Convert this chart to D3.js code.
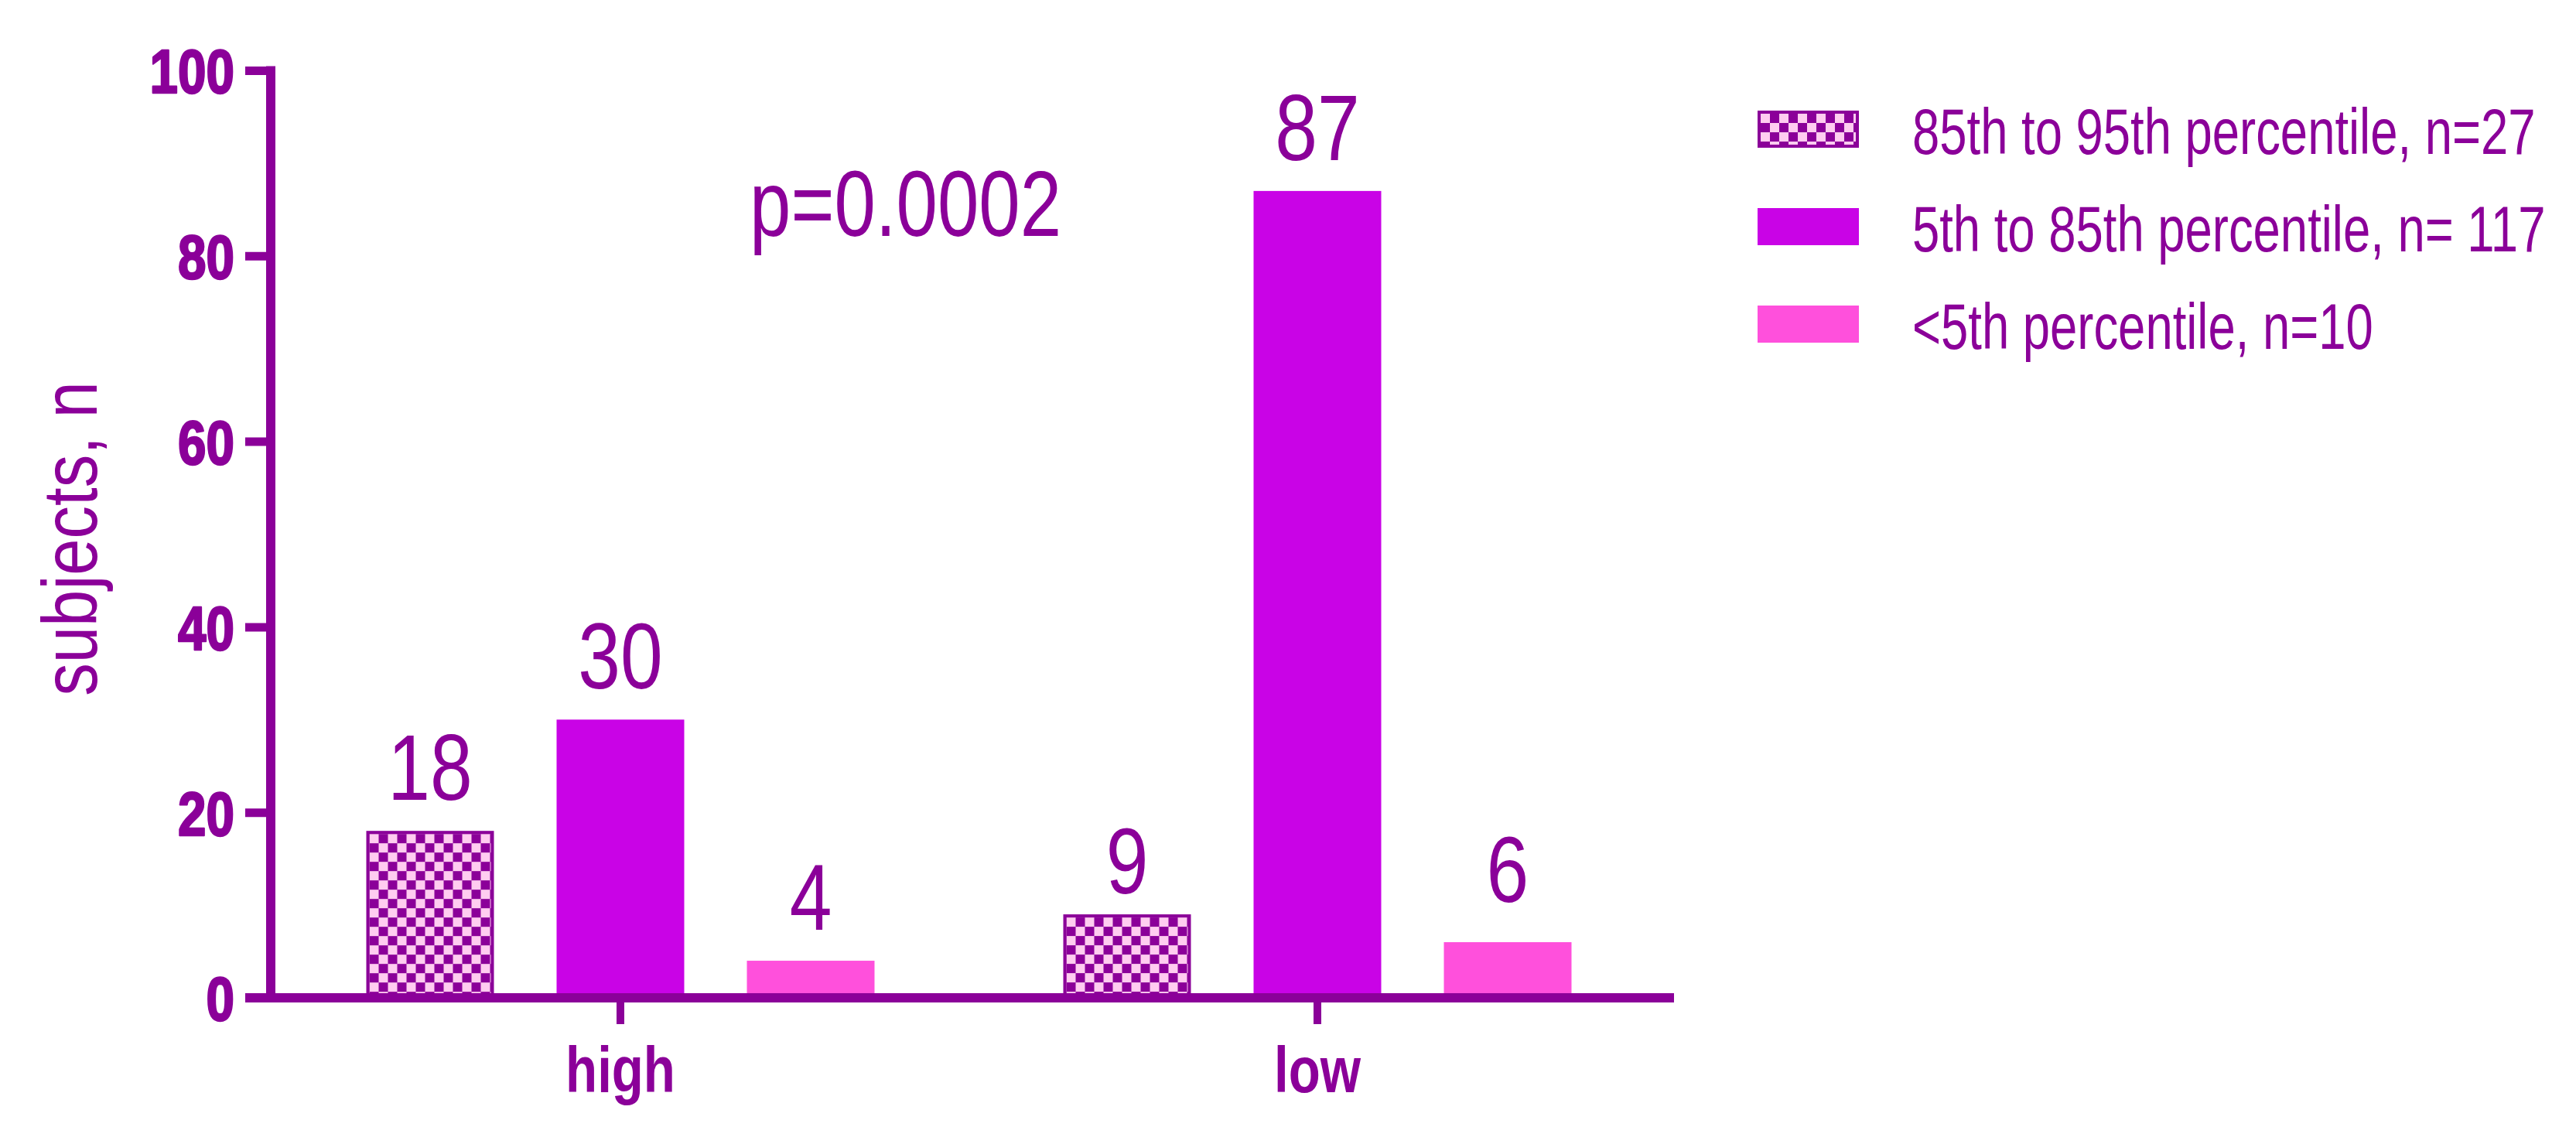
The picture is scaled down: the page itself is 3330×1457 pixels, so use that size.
<!DOCTYPE html>
<html>
<head>
<meta charset="utf-8">
<script src="https://cdn.jsdelivr.net/npm/d3@7"></script>
<style>
  html, body { margin: 0; padding: 0; background: #ffffff; }
  svg { display: block; }
</style>
</head>
<body>
<script>
// ---- data ----
const categories = ["high", "low"];
const seriesNames = ["85th to 95th percentile, n=27", "5th to 85th percentile, n= 117", "<5th percentile, n=10"];
const series85to95 = [18, 9];
const series5to85 = [30, 87];
const seriesBelow5 = [4, 6];
const yTickValues = [0, 20, 40, 60, 80, 100];
const yTitle = "subjects, n";
const pText = "p=0.0002";

// ---- styling ----
const W = 3330, H = 1457;
const DARK = "#8b0099";
const LIGHT = "#ffccf0";
const seriesColors = [null, "#c903e6", "#ff50dc"];
const FONT = '"Liberation Sans", Arial, sans-serif';
// small manual label nudges (px) as in the original figure, keyed "category|seriesIndex"
const labelNudge = { "low|0": 13, "low|2": -12 };

const seriesValues = [series85to95, series5to85, seriesBelow5];

const svg = d3.select("body").append("svg").attr("width", W).attr("height", H);
svg.append("rect").attr("width", W).attr("height", H).attr("fill", "#ffffff");
const defs = svg.append("defs");

function condense(sel, sx) {
  sel.each(function () {
    const t = d3.select(this);
    const x = +t.attr("x") || 0;
    t.attr("x", x / sx).attr("transform", `scale(${sx},1)`);
  });
}

function checker(id, ox, oy) {
  const p = defs.append("pattern").attr("id", id)
    .attr("patternUnits", "userSpaceOnUse")
    .attr("x", ox).attr("y", oy).attr("width", 24).attr("height", 24);
  p.append("rect").attr("width", 24).attr("height", 24).attr("fill", LIGHT);
  p.append("rect").attr("x", 12).attr("y", 0).attr("width", 12).attr("height", 12).attr("fill", DARK);
  p.append("rect").attr("x", 0).attr("y", 12).attr("width", 12).attr("height", 12).attr("fill", DARK);
  return `url(#${id})`;
}

// ---- scales ----
const y = d3.scaleLinear().domain([0, 100]).range([1290, 91]);
const x0 = d3.scaleBand().domain(categories).range([351.5, 2153.5]);
const x1 = d3.scaleBand().domain(d3.range(seriesNames.length)).range([-369, 369])
  .paddingInner(0.3293).paddingOuter(0.16465);

// ---- bars ----
const bars = [];
categories.forEach((c, i) => {
  seriesValues.forEach((vals, j) => {
    bars.push({ cat: c, s: j, v: vals[i] });
  });
});

const gBars = svg.append("g");
bars.forEach((d, k) => {
  const bx = x0(d.cat) + x0.bandwidth() / 2 + x1(d.s);
  const by = y(d.v);
  const bw = x1.bandwidth();
  const bh = y(0) - y(d.v);
  if (d.s === 0) {
    const fill = checker("chk" + k, bx + 4, by + 4);
    gBars.append("rect").attr("x", bx + 2).attr("y", by + 2)
      .attr("width", bw - 4).attr("height", bh)
      .attr("fill", fill).attr("stroke", DARK).attr("stroke-width", 4);
  } else {
    gBars.append("rect").attr("x", bx).attr("y", by)
      .attr("width", bw).attr("height", bh)
      .attr("fill", seriesColors[d.s]);
  }
});

// value labels
const gLab = svg.append("g");
bars.forEach(d => {
  const cx = x0(d.cat) + x0.bandwidth() / 2 + x1(d.s) + x1.bandwidth() / 2;
  const nudge = labelNudge[d.cat + "|" + d.s] || 0;
  gLab.append("text").attr("x", cx).attr("y", y(d.v) - 40 + nudge)
    .attr("text-anchor", "middle").attr("fill", DARK)
    .style("font-family", FONT).style("font-size", "120px")
    .text(d.v);
});
condense(gLab.selectAll("text"), 0.82);

// ---- y axis ----
const gY = svg.append("g").attr("transform", "translate(350,0)")
  .call(d3.axisLeft(y).tickValues(yTickValues).tickSize(33).tickPadding(14).tickFormat(d3.format("d")));
gY.select(".domain").remove();
gY.selectAll(".tick line").attr("stroke", DARK).attr("stroke-width", 11);
gY.selectAll(".tick text").attr("fill", DARK).attr("dy", "0.36em")
  .attr("stroke", DARK).attr("stroke-width", 2.5).attr("stroke-linejoin", "round")
  .style("font-family", FONT).style("font-size", "80px").style("font-weight", "bold");
condense(gY.selectAll(".tick text"), 0.82);
svg.append("line").attr("x1", 350).attr("x2", 350).attr("y1", 85.5).attr("y2", 1296)
  .attr("stroke", DARK).attr("stroke-width", 12);

// ---- x axis ----
svg.append("line").attr("x1", 317).attr("x2", 2164).attr("y1", y(0)).attr("y2", y(0))
  .attr("stroke", DARK).attr("stroke-width", 12);
const gX = svg.append("g").attr("transform", `translate(0,${y(0)})`)
  .call(d3.axisBottom(x0).tickSize(34));
gX.select(".domain").remove();
gX.selectAll(".tick line").attr("stroke", DARK).attr("stroke-width", 10);
gX.selectAll(".tick text").attr("fill", DARK).attr("y", 122).attr("dy", 0)
  .style("font-family", FONT).style("font-size", "84px").style("font-weight", "bold");
condense(gX.selectAll(".tick text"), 0.8);

// ---- y title ----
svg.append("text").attr("transform", "translate(125,696.5) rotate(-90) scale(0.85,1)")
  .attr("text-anchor", "middle").attr("fill", DARK)
  .style("font-family", FONT).style("font-size", "100px")
  .text(yTitle);

// ---- p value ----
const pT = svg.append("text").attr("x", 969).attr("y", 305).attr("fill", DARK)
  .style("font-family", FONT).style("font-size", "120px").text(pText);
condense(pT, 0.8);

// ---- legend ----
const gLeg = svg.append("g");
seriesNames.forEach((name, i) => {
  const top = 143 + i * 126;
  if (i === 0) {
    const fill = checker("chkLeg", 2276, top + 4);
    gLeg.append("rect").attr("x", 2274).attr("y", top + 2).attr("width", 127).attr("height", 44)
      .attr("fill", fill).attr("stroke", DARK).attr("stroke-width", 4);
  } else {
    gLeg.append("rect").attr("x", 2272).attr("y", top).attr("width", 131).attr("height", 48)
      .attr("fill", seriesColors[i]);
  }
  const t = gLeg.append("text").attr("x", 2472).attr("y", top + 56).attr("fill", DARK)
    .style("font-family", FONT).style("font-size", "84px").text(name);
  condense(t, 0.755);
});
</script>
</body>
</html>
